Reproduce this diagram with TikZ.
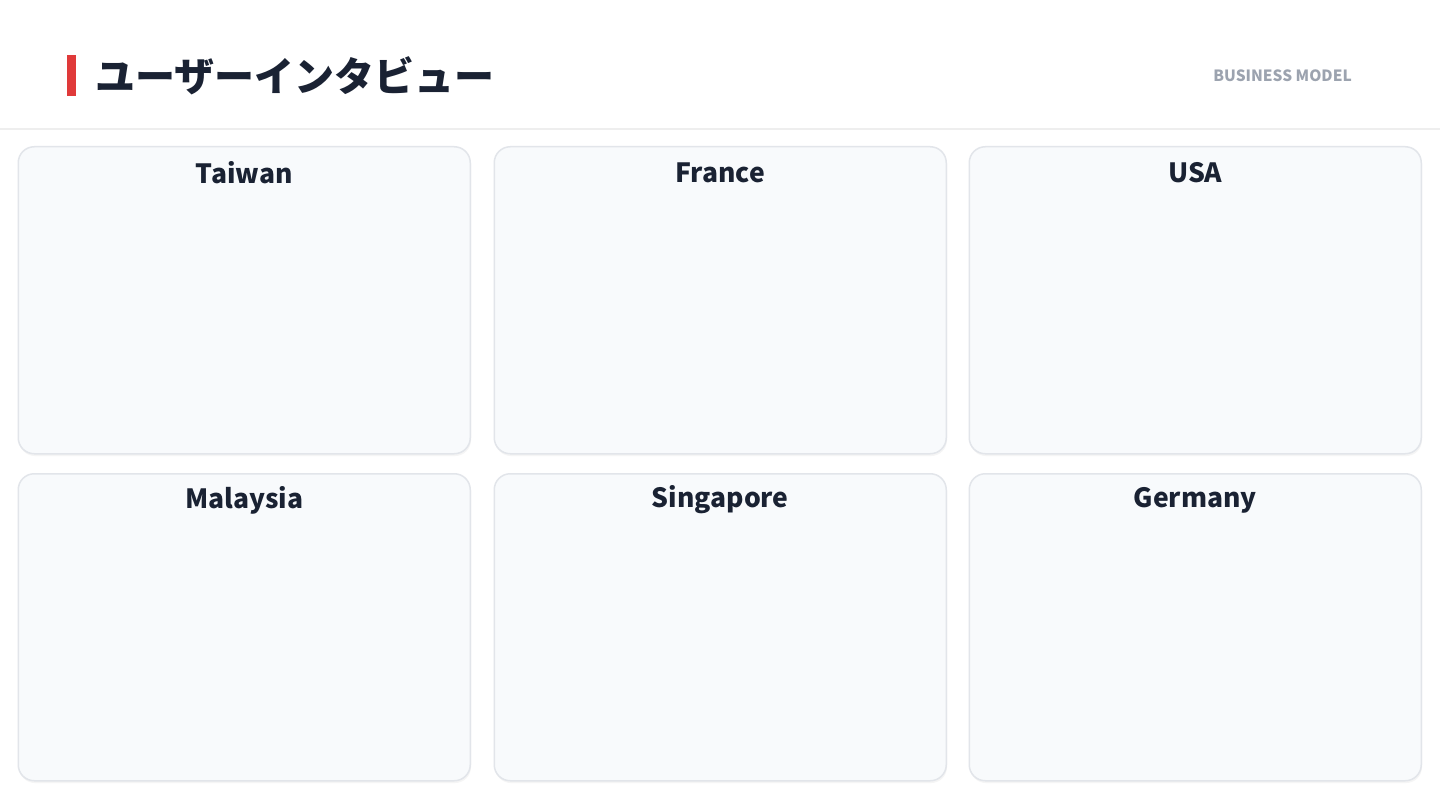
\documentclass[tikz,border=0pt]{standalone}
\usepackage{fontspec}
\usetikzlibrary{calc}
\setmainfont{Noto Sans CJK JP}
\begin{document}
\definecolor{titlec}{HTML}{1A2233}
\definecolor{accent}{HTML}{E03A3A}
\definecolor{subc}{HTML}{9CA3AF}
\definecolor{cardfill}{HTML}{F8FAFC}
\definecolor{cardline}{HTML}{E2E5EA}
\definecolor{rulec}{HTML}{EEEEEE}
\begin{tikzpicture}[x=1pt,y=-1pt,
  card/.style={draw=cardline,line width=1.5pt,fill=cardfill,rounded corners=16pt,minimum width=452pt,minimum height=307pt,inner sep=0pt,anchor=north west},
  cardtitle/.style={font=\fontsize{26.5}{30}\selectfont\bfseries,text=titlec,anchor=center},
  shadowc/.style={fill=black!4,rounded corners=16pt}]
\useasboundingbox[fill=white] (0,0) rectangle (1440,810);
% header
\fill[accent] (67,55) rectangle (76,96);
\node[anchor=west,inner sep=0pt,font=\fontsize{40}{46}\selectfont\bfseries,text=titlec] (title) at (95,76) {ユーザーインタビュー};
\node[anchor=east,inner sep=0pt,font=\fontsize{15.5}{18}\selectfont\bfseries,text=subc] (sub) at (1352,76) {BUSINESS MODEL};
\draw[rulec,line width=1.5pt] (0,129) -- (1440,129);
% cards
\foreach \x/\y/\n/\t in {18/146/c1/Taiwan,494/146/c2/France,969/146/c3/USA,18/473/c4/Malaysia,494/473/c5/Singapore,969/473/c6/Germany}{
  \fill[shadowc] (\x+1,\y+2) rectangle ++(452,308);
  \node[card] (\n) at (\x-0.5,\y) {};
  \node[cardtitle] (\n t) at ($(\n.north)+(0,27)$) {\t};
}
\end{tikzpicture}
\end{document}
